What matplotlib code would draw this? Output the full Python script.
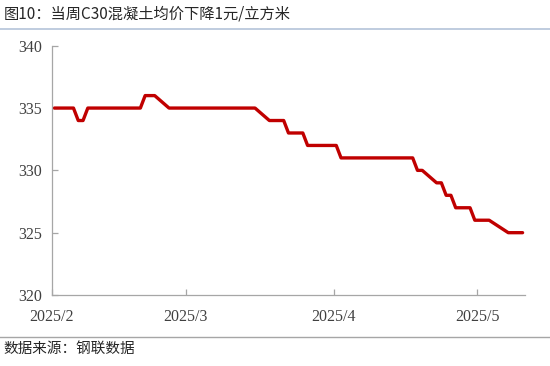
import matplotlib
matplotlib.use("Agg")
import matplotlib.pyplot as plt
from matplotlib.lines import Line2D
import pandas as pd

# Weekly average C30 concrete price (yuan / m3), points where the series changes
dates = ["2025-02-01", "2025-02-05", "2025-02-06", "2025-02-07", "2025-02-08",
         "2025-02-19", "2025-02-20", "2025-02-22", "2025-02-25", "2025-03-15",
         "2025-03-18", "2025-03-21", "2025-03-22", "2025-03-25", "2025-03-26",
         "2025-04-01", "2025-04-02", "2025-04-17", "2025-04-18", "2025-04-19",
         "2025-04-22", "2025-04-23", "2025-04-24", "2025-04-25", "2025-04-26",
         "2025-04-29", "2025-04-30", "2025-05-03", "2025-05-07", "2025-05-10"]
prices = [335, 335, 334, 334, 335,
          335, 336, 336, 335, 335,
          334, 334, 333, 333, 332,
          332, 331, 331, 330, 330,
          329, 329, 328, 328, 327,
          327, 326, 326, 325, 325]

x_ticks = ["2025-02-01", "2025-03-01", "2025-04-01", "2025-05-01"]
x_tick_labels = ["2025/2", "2025/3", "2025/4", "2025/5"]
y_ticks = [320, 325, 330, 335, 340]

title = "图10：当周C30混凝土均价下降1元/立方米"
source = "数据来源：钢联数据"

cjk = ["Noto Sans CJK SC", "DejaVu Sans"]
serif = ["Liberation Serif", "DejaVu Serif"]

fig = plt.figure(figsize=(5.5, 3.66), dpi=100)
ax = fig.add_axes([0.0945, 0.194, 0.86, 0.681])

# each daily value sits in the middle of its day
x = pd.to_datetime(dates) + pd.Timedelta(hours=12)
ax.plot(x, prices, color="#c00000", linewidth=2.4,
        solid_joinstyle="round", solid_capstyle="round")

ax.set_xlim(pd.Timestamp("2025-02-01"), pd.Timestamp("2025-05-11"))
ax.set_ylim(320, 340)
ax.set_xticks(pd.to_datetime(x_ticks))
ax.set_xticklabels(x_tick_labels)
ax.set_yticks(y_ticks)

for s in ("top", "right"):
    ax.spines[s].set_visible(False)
for s in ("left", "bottom"):
    ax.spines[s].set_color("#a6a6a6")
    ax.spines[s].set_linewidth(0.9)

ax.tick_params(axis="both", direction="in", length=4, width=0.9,
               color="#a6a6a6", labelcolor="#404040", labelsize=11.5)
ax.tick_params(axis="y", pad=7)
ax.tick_params(axis="x", pad=10)
for lab in ax.get_xticklabels() + ax.get_yticklabels():
    lab.set_family(serif)

fig.text(0.006, 0.962, title, family=cjk, fontsize=11, color="#262626",
         ha="left", va="center")
fig.add_artist(Line2D([0, 1], [0.92, 0.92], transform=fig.transFigure,
                      color="#b4c3d9", linewidth=1.2))
fig.add_artist(Line2D([0, 1], [0.078, 0.078], transform=fig.transFigure,
                      color="#a6a6a6", linewidth=1.0))
fig.text(0.006, 0.046, source, family=cjk, fontsize=10.5, color="#262626",
         ha="left", va="center")

fig.savefig("out.png", dpi=100, facecolor="white")
